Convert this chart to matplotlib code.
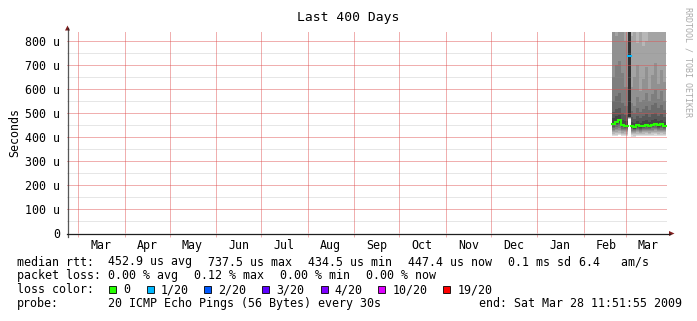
import matplotlib
matplotlib.use('Agg')
import matplotlib.pyplot as plt
import matplotlib.dates as mdates
from matplotlib.patches import Rectangle, Polygon
from matplotlib.lines import Line2D
from matplotlib.transforms import Affine2D
import pandas as pd

W, H = 697, 321
plt.rcParams['font.family'] = ['DejaVu Sans Mono', 'DejaVu Sans']

# ---------------- data ----------------
graph_start = "2008-02-22 11:51:55"
graph_end = "2009-03-28 11:51:55"

month_starts = ["2008-03-01", "2008-04-01", "2008-05-01", "2008-06-01", "2008-07-01",
                "2008-08-01", "2008-09-01", "2008-10-01", "2008-11-01", "2008-12-01",
                "2009-01-01", "2009-02-01", "2009-03-01"]
month_labels = ["Mar", "Apr", "May", "Jun", "Jul", "Aug", "Sep", "Oct", "Nov", "Dec",
                "Jan", "Feb", "Mar"]

ytick_values = [0, 100, 200, 300, 400, 500, 600, 700, 800]
ytick_labels = ["0", "100 u", "200 u", "300 u", "400 u", "500 u", "600 u", "700 u", "800 u"]
minor_grid_values = [50, 150, 250, 350, 450, 550, 650, 750]

step_starts = ["2009-02-20", "2009-02-22", "2009-02-24", "2009-02-26", "2009-02-28",
               "2009-03-02 12:00", "2009-03-04 12:00", "2009-03-06", "2009-03-08", "2009-03-10",
               "2009-03-12", "2009-03-14", "2009-03-16", "2009-03-18", "2009-03-20",
               "2009-03-22", "2009-03-24", "2009-03-26"]
data_end = "2009-03-28"

# median round-trip time (microseconds) per step
median_us = [456, 463, 469, 451, 446, 737.5, 445, 441, 448, 444, 447, 451, 446, 452, 456, 449, 453, 447.4]
# lost pings (of 20) per step
loss_count = [0, 0, 0, 0, 0, 1, 0, 0, 0, 0, 0, 0, 0, 0, 0, 0, 0, 0]

# sorted ping times (microseconds), p01 = fastest ... p20 = slowest
p01 = [404, 405, 407, 403, 404, 476, 402, 401, 404, 403, 404, 405, 403, 405, 406, 404, 405, 404]
p02 = [409, 410, 412, 408, 409, 477, 407, 406, 409, 408, 409, 410, 408, 410, 411, 409, 410, 409]
p03 = [414, 416, 418, 413, 414, 478, 412, 411, 414, 413, 414, 415, 413, 415, 417, 414, 415, 414]
p04 = [420, 422, 424, 418, 419, 479, 417, 416, 419, 418, 419, 420, 418, 421, 422, 419, 421, 419]
p05 = [425, 428, 431, 423, 424, 480, 422, 420, 424, 422, 424, 425, 423, 426, 428, 424, 426, 424]
p06 = [431, 434, 438, 428, 428, 481, 427, 424, 429, 427, 428, 430, 428, 431, 433, 429, 431, 429]
p07 = [437, 441, 446, 434, 433, 482, 432, 428, 434, 431, 433, 435, 432, 436, 439, 433, 436, 433]
p08 = [443, 448, 454, 440, 438, 483, 436, 432, 438, 435, 437, 440, 436, 441, 444, 437, 441, 437]
p09 = [448, 454, 460, 445, 442, 484, 439, 435, 442, 439, 441, 445, 440, 446, 450, 442, 447, 441]
p10 = [453, 460, 466, 449, 444, 485, 443, 439, 446, 442, 445, 449, 444, 450, 454, 447, 451, 445]
p11 = [460, 467, 473, 454, 449, 990, 448, 444, 451, 447, 450, 454, 449, 455, 459, 452, 456, 450]
p12 = [478, 486, 492, 472, 466, 1010, 462, 458, 466, 460, 465, 470, 463, 471, 474, 466, 472, 464]
p13 = [505, 515, 522, 498, 490, 1030, 482, 476, 489, 480, 486, 494, 484, 495, 500, 488, 497, 485]
p14 = [548, 570, 582, 540, 528, 1050, 510, 500, 522, 506, 515, 530, 512, 532, 540, 520, 535, 514]
p15 = [650, 700, 715, 665, 610, 1070, 540, 528, 565, 545, 555, 585, 548, 578, 595, 560, 590, 552]
p16 = [850, 820, 880, 860, 800, 1090, 610, 650, 700, 590, 640, 690, 600, 660, 710, 620, 680, 630]
p17 = [960, 950, 990, 970, 930, 1110, 820, 870, 790, 860, 780, 800, 870, 890, 850, 900, 860, 880]
p18 = [1100, 1080, 1150, 1120, 1050, 1130, 950, 990, 930, 980, 920, 940, 1000, 1020, 980, 1030, 990, 1010]
p19 = [1300, 1250, 1350, 1320, 1240, 1150, 1150, 1200, 1120, 1180, 1100, 1130, 1210, 1240, 1190, 1250, 1200, 1230]
p20 = [1600, 1550, 1700, 1650, 1500, 1170, 1450, 1500, 1400, 1480, 1380, 1420, 1520, 1560, 1490, 1570, 1510, 1540]

loss_levels = [0, 1, 2, 3, 4, 10, 19]
loss_legend = ["0", "1/20", "2/20", "3/20", "4/20", "10/20", "19/20"]
loss_colors = ["#26ff00", "#00b8ff", "#0059ff", "#5e00ff", "#7e00ff", "#dd00ff", "#ff0000"]

legend_line1 = ["median rtt:", "452.9 us avg", "737.5 us max", "434.5 us min", "447.4 us now", "0.1 ms sd", "6.4   am/s"]
legend_line2 = ["packet loss:", "0.00 % avg", "0.12 % max", "0.00 % min", "0.00 % now"]
probe_text = "20 ICMP Echo Pings (56 Bytes) every 30s"
end_text = "end: Sat Mar 28 11:51:55 2009"

# ---------------- figure ----------------
fig = plt.figure(figsize=(W / 100, H / 100), dpi=100)
fig.patch.set_facecolor('white')
ax = fig.add_axes([67 / W, 88 / H, 600 / W, 201 / H])
ax.set_facecolor('white')
for s in ax.spines.values():
    s.set_visible(False)

T = Affine2D().scale(1 / W, -1 / H).translate(0, 1) + fig.transFigure  # pixel coords (top-left origin)

x0 = mdates.date2num(pd.Timestamp(graph_start))
x1 = mdates.date2num(pd.Timestamp(graph_end))
YMAX = 837.5
ax.set_xlim(x0, x1)
ax.set_ylim(0, YMAX)
PX = YMAX / 201.0  # one pixel in data units (y)

MGRID = (0.87, 0.31, 0.31, 0.45)
GRID = (0.56, 0.56, 0.56, 0.22)

# smoke
xs = [mdates.date2num(pd.Timestamp(d)) for d in step_starts + [data_end]]
pings = [p01, p02, p03, p04, p05, p06, p07, p08, p09, p10,
         p11, p12, p13, p14, p15, p16, p17, p18, p19, p20]
half = 10
for ib in range(1, half + 1):
    lo = pings[ib - 1]
    hi = pings[20 - ib]
    c = int(190 / half * (half - ib)) + 50
    col = '#%02x%02x%02x' % (c, c, c)
    ax.fill_between(xs, lo + [lo[-1]], hi + [hi[-1]], step='post', color=col,
                    lw=0, zorder=2, antialiased=False)

# grids (one pixel row each)
for v in minor_grid_values:
    ax.axhspan(v - PX, v, color=GRID, lw=0, zorder=3, antialiased=False)
for v in ytick_values[1:]:
    ax.axhspan(v - PX, v, color=MGRID, lw=0, zorder=3, antialiased=False)
ms = [mdates.date2num(pd.Timestamp(d)) for d in month_starts]
for m in ms:
    ax.axvline(m, color=MGRID, lw=0.72, zorder=3, snap=True, antialiased=False)

# median line colored by loss
col_of = {lv: c for lv, c in zip(loss_levels, loss_colors)}
n = len(median_us)
k = 0
while k < n:
    j = k
    while j + 1 < n and loss_count[j + 1] == loss_count[k]:
        j += 1
    seg_x = xs[k:j + 2]
    seg_y = median_us[k:j + 1] + [median_us[j]]
    ax.step(seg_x, seg_y, where='post', color=col_of[loss_count[k]], lw=1.5, zorder=5,
            solid_joinstyle='miter')
    k = j + 1

# ticks
ax.set_yticks(ytick_values)
ax.set_yticklabels(ytick_labels)
ax.tick_params(axis='y', length=0, pad=5, labelsize=8.4)
ax.set_xticks(ms)
ax.set_xticklabels([])
ax.tick_params(axis='x', which='major', length=2.9, width=0.72, color=MGRID)
label_pos = [m + 15 for m in ms]
ax.set_xticks(label_pos, minor=True)
ax.set_xticklabels(month_labels, minor=True)
ax.tick_params(axis='x', which='minor', length=0, pad=4, labelsize=8.4)

# axes lines with arrows
AXC = '#1f1f1f'
ARROW = '#801f1f'
fig.add_artist(Line2D([67, 670], [233.5, 233.5], color=AXC, lw=0.9, transform=T))
fig.add_artist(Line2D([67.5, 67.5], [237, 28], color=AXC, lw=0.9, transform=T, alpha=0.75))
fig.add_artist(Polygon([(669, 231), (674.5, 233.5), (669, 236)], closed=True,
                       facecolor=ARROW, edgecolor='none', transform=T))
fig.add_artist(Polygon([(65, 30.5), (67.5, 25.5), (70, 30.5)], closed=True,
                       facecolor=ARROW, edgecolor='none', transform=T))

# title and labels
fig.text(348, 20.5, "Last 400 Days", transform=T, ha='center', va='baseline', fontsize=9.4)
fig.text(15, 132.5, "Seconds", transform=T, ha='center', va='center', rotation=90, fontsize=8.4)
fig.text(688, 62, "RRDTOOL / TOBI OETIKER", transform=T, ha='center', va='center',
         rotation=270, fontsize=6.0, color='#aaaaaa')

# legend
FS = 8.4
y1, y2, y3, y4 = 265.5, 279.3, 293.2, 307.0
for xp, s in zip([16.7, 107.7, 207.7, 307.7, 407.7, 507.7, 579], legend_line1):
    fig.text(xp, y1, s, transform=T, ha='left', va='baseline', fontsize=FS)
for xp, s in zip([16.7, 107.7, 193.7, 279.7, 365.7], legend_line2):
    fig.text(xp, y2, s, transform=T, ha='left', va='baseline', fontsize=FS)
fig.text(16.7, y3, "loss color:", transform=T, ha='left', va='baseline', fontsize=FS)
box_x = [109.3, 146.7, 204.0, 262.3, 320.7, 378.3, 443.3]
for bx, lab, c in zip(box_x, loss_legend, loss_colors):
    fig.add_artist(Rectangle((bx, 286), 7, 7, facecolor=c, edgecolor='#000000', lw=0.6,
                             transform=T))
    fig.text(bx + 14, y3, lab, transform=T, ha='left', va='baseline', fontsize=FS)
fig.text(16.7, y4, "probe:", transform=T, ha='left', va='baseline', fontsize=FS)
fig.text(107.7, y4, probe_text, transform=T, ha='left', va='baseline', fontsize=FS)
fig.text(682, y4, end_text, transform=T, ha='right', va='baseline', fontsize=FS)

fig.savefig('out.png', dpi=100, facecolor='white')
